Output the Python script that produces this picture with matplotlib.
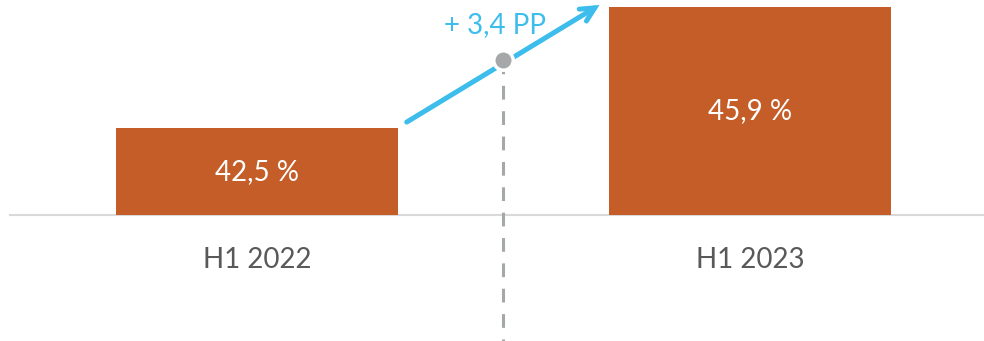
import matplotlib
matplotlib.use("Agg")
import matplotlib.pyplot as plt

categories = ["H1 2022", "H1 2023"]
values = [42.5, 45.9]
value_labels = ["42,5 %", "45,9 %"]
delta_label = "+ 3,4 PP"

BAR = "#C45D27"
ARROW = "#3CBDEC"
GRAY_TXT = "#595959"
DOT = "#A5A8A8"

plt.rcParams["font.family"] = ["Lato", "DejaVu Sans"]

fig = plt.figure(figsize=(9.84, 3.41), dpi=100)
ax = fig.add_axes([0, 0, 1, 1])
base = 40.06
ax.set_xlim(-0.521, 1.475)
ax.set_ylim(36.52, 46.1)
ax.axis("off")

x = [0, 1]
ax.bar(x, [v - base for v in values], bottom=base, width=0.572, color=BAR, zorder=2)
ax.axhline(base, xmin=10 / 984, xmax=1, color="#D9D9D9", lw=1.5, zorder=1)

for xi, v, lab in zip(x, values, value_labels):
    ax.text(xi, (v + base) / 2, lab, ha="center", va="center", color="white", fontsize=20, zorder=3)

for xi, c in zip(x, categories):
    ax.text(xi, base - 1.27, c, ha="center", va="center", color=GRAY_TXT, fontsize=20)

# change arrow between the two bars
x0, x1 = 0.304, 0.695
y0, y1 = 42.67, 45.96
ax.annotate("", xy=(x1, y1), xytext=(x0, y0),
            arrowprops=dict(arrowstyle="->,head_length=1.0,head_width=0.5",
                            color=ARROW, lw=3.6, shrinkA=0, shrinkB=0,
                            capstyle="round", joinstyle="miter"),
            zorder=4)

# midpoint marker with dashed drop line
xm, ym = 0.5, 44.41
ax.plot([xm, xm], [ym, 36.52], color=DOT, lw=2.2, ls=(0, (4.5, 3.8)), zorder=3)
ax.plot([xm], [ym], "o", ms=14, color=DOT, mec="white", mew=2.5, zorder=5)

ax.text(0.483, 45.40, delta_label, ha="center", va="center", color=ARROW, fontsize=20, zorder=5)

fig.savefig("out.png", dpi=100)
